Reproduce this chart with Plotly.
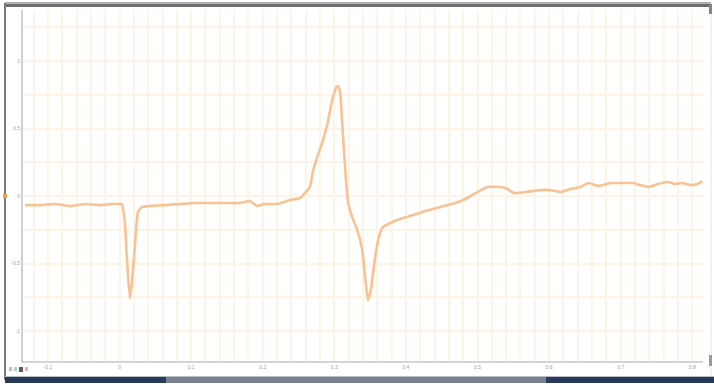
import plotly.graph_objects as go

# ECG-like trace: time (s) and amplitude (mV)
time_s = [
    -0.132, -0.111, -0.090, -0.069, -0.048, -0.027, -0.011, -0.001, 0.003,
    0.0075, 0.0100, 0.0117, 0.0145, 0.0173, 0.0215, 0.0257, 0.0313, 0.0425,
    0.0634, 0.0844, 0.105, 0.126, 0.147, 0.168, 0.182, 0.192, 0.203, 0.221,
    0.238, 0.252, 0.266, 0.270, 0.276, 0.283, 0.290, 0.297, 0.303, 0.305,
    0.308, 0.312, 0.315, 0.319, 0.325, 0.332, 0.339, 0.343, 0.347, 0.351,
    0.357, 0.363, 0.368, 0.378, 0.396, 0.410, 0.427, 0.448, 0.469, 0.483,
    0.497, 0.514, 0.532, 0.542, 0.551, 0.567, 0.588, 0.602, 0.616, 0.630,
    0.644, 0.655, 0.669, 0.686, 0.703, 0.718, 0.727, 0.739, 0.752, 0.765,
    0.776, 0.786, 0.797, 0.807, 0.814,
]
amplitude_mv = [
    -0.067, -0.067, -0.059, -0.074, -0.059, -0.067, -0.059, -0.059, -0.059,
    -0.200, -0.440, -0.585, -0.756, -0.637, -0.363, -0.119, -0.081, -0.074,
    -0.067, -0.059, -0.052, -0.052, -0.052, -0.052, -0.037, -0.074, -0.059,
    -0.059, -0.030, -0.015, 0.067, 0.178, 0.289, 0.393, 0.526, 0.711, 0.807,
    0.815, 0.770, 0.452, 0.215, -0.044, -0.156, -0.252, -0.400, -0.600,
    -0.770, -0.696, -0.452, -0.289, -0.230, -0.200, -0.163, -0.141, -0.111,
    -0.081, -0.052, -0.022, 0.022, 0.067, 0.067, 0.052, 0.022, 0.030, 0.044,
    0.044, 0.030, 0.052, 0.067, 0.096, 0.074, 0.096, 0.096, 0.096, 0.081,
    0.067, 0.089, 0.104, 0.089, 0.096, 0.081, 0.089, 0.111,
]

x_tick_vals = [-0.1, 0, 0.1, 0.2, 0.3, 0.4, 0.5, 0.6, 0.7, 0.8]
x_tick_text = ["-0.1", "0", "0.1", "0.2", "0.3", "0.4", "0.5", "0.6", "0.7", "0.8"]
y_tick_vals = [-1, -0.5, 0, 0.5, 1]
y_tick_text = ["-1", "-0.5", "0", "0.5", "1"]

W, H = 714, 387
L, R, T, B = 23, 11, 10, 26
PW, PH = W - L - R, H - T - B

def px(x):
    return (x - L) / PW

def py(y):
    return (H - B - y) / PH

GRID = "#FEF4E6"
TRACE = "#F8C294"

fig = go.Figure()
fig.add_trace(go.Scatter(
    x=time_s, y=amplitude_mv, mode="lines",
    line=dict(color=TRACE, width=2.6, shape="spline", smoothing=0.4),
    hoverinfo="skip", showlegend=False,
))

fig.update_xaxes(
    range=[-0.1349, 0.8150], tickvals=x_tick_vals, ticktext=x_tick_text,
    showgrid=True, gridcolor=GRID, gridwidth=2,
    minor=dict(dtick=0.02, tick0=0, showgrid=True, gridcolor=GRID, gridwidth=2),
    showline=True, linecolor="#D4D4D4", linewidth=1.5,
    zeroline=False, ticks="", tickfont=dict(size=5, color="#A0A0A0", family="Arial"),
)
fig.update_yaxes(
    range=[-1.222, 1.378], tickvals=y_tick_vals, ticktext=y_tick_text,
    showgrid=True, gridcolor=GRID, gridwidth=2,
    minor=dict(dtick=0.25, tick0=0, showgrid=True, gridcolor=GRID, gridwidth=2),
    showline=True, linecolor="#D0D0D0", linewidth=2,
    zeroline=False, ticks="", tickfont=dict(size=5, color="#A0A0A0", family="Arial"),
)

shapes = [
    # window top border
    dict(type="rect", x0=px(5), x1=px(711), y0=py(2), y1=py(4), fillcolor="#B0B0B0", line_width=0),
    dict(type="rect", x0=px(5), x1=px(711), y0=py(4), y1=py(7), fillcolor="#6E6E6E", line_width=0),
    # window left border
    dict(type="rect", x0=px(4), x1=px(6), y0=py(3), y1=py(380), fillcolor="#7A7A7A", line_width=0),
    # right edge
    dict(type="rect", x0=px(709), x1=px(712), y0=py(4), y1=py(14), fillcolor="#8A7F90", line_width=0),
    dict(type="line", x0=px(711), x1=px(711), y0=py(14), y1=py(376), line=dict(color="#E4E4E4", width=1)),
    # bottom scroll bar
    dict(type="rect", x0=px(5), x1=px(166), y0=py(377), y1=py(383), fillcolor="#28385A", line_width=0),
    dict(type="rect", x0=px(166), x1=px(546), y0=py(377), y1=py(383), fillcolor="#7C8390", line_width=0),
    dict(type="rect", x0=px(546), x1=px(714), y0=py(377), y1=py(383), fillcolor="#28385A", line_width=0),
    dict(type="rect", x0=px(5), x1=px(714), y0=py(376), y1=py(377), fillcolor="#B8BCC4", line_width=0),
    # channel marker at zero level
    dict(type="rect", x0=px(3), x1=px(7), y0=py(194), y1=py(198), fillcolor="#F39A4A", line_width=0),
    # tiny status icons
    dict(type="rect", x0=px(9), x1=px(12), y0=py(367), y1=py(371), fillcolor="#F2A8B4", line_width=0),
    dict(type="rect", x0=px(14), x1=px(17), y0=py(367), y1=py(371), fillcolor="#A8D8B8", line_width=0),
    dict(type="rect", x0=px(19), x1=px(23), y0=py(367), y1=py(372), fillcolor="#6A5A4A", line_width=0),
    dict(type="rect", x0=px(25), x1=px(28), y0=py(367), y1=py(371), fillcolor="#F2A8D0", line_width=0),
    # right scroll nub
    dict(type="rect", x0=px(709), x1=px(712), y0=py(355), y1=py(366), fillcolor="#9A9A9A", line_width=0),
]
for s in shapes:
    s["xref"] = "paper"
    s["yref"] = "paper"
    s["layer"] = "above"
fig.update_layout(shapes=shapes)

fig.update_layout(
    width=W, height=H,
    margin=dict(l=L, r=R, t=T, b=B),
    paper_bgcolor="white", plot_bgcolor="white",
    showlegend=False,
)

fig.write_html("out.html")
